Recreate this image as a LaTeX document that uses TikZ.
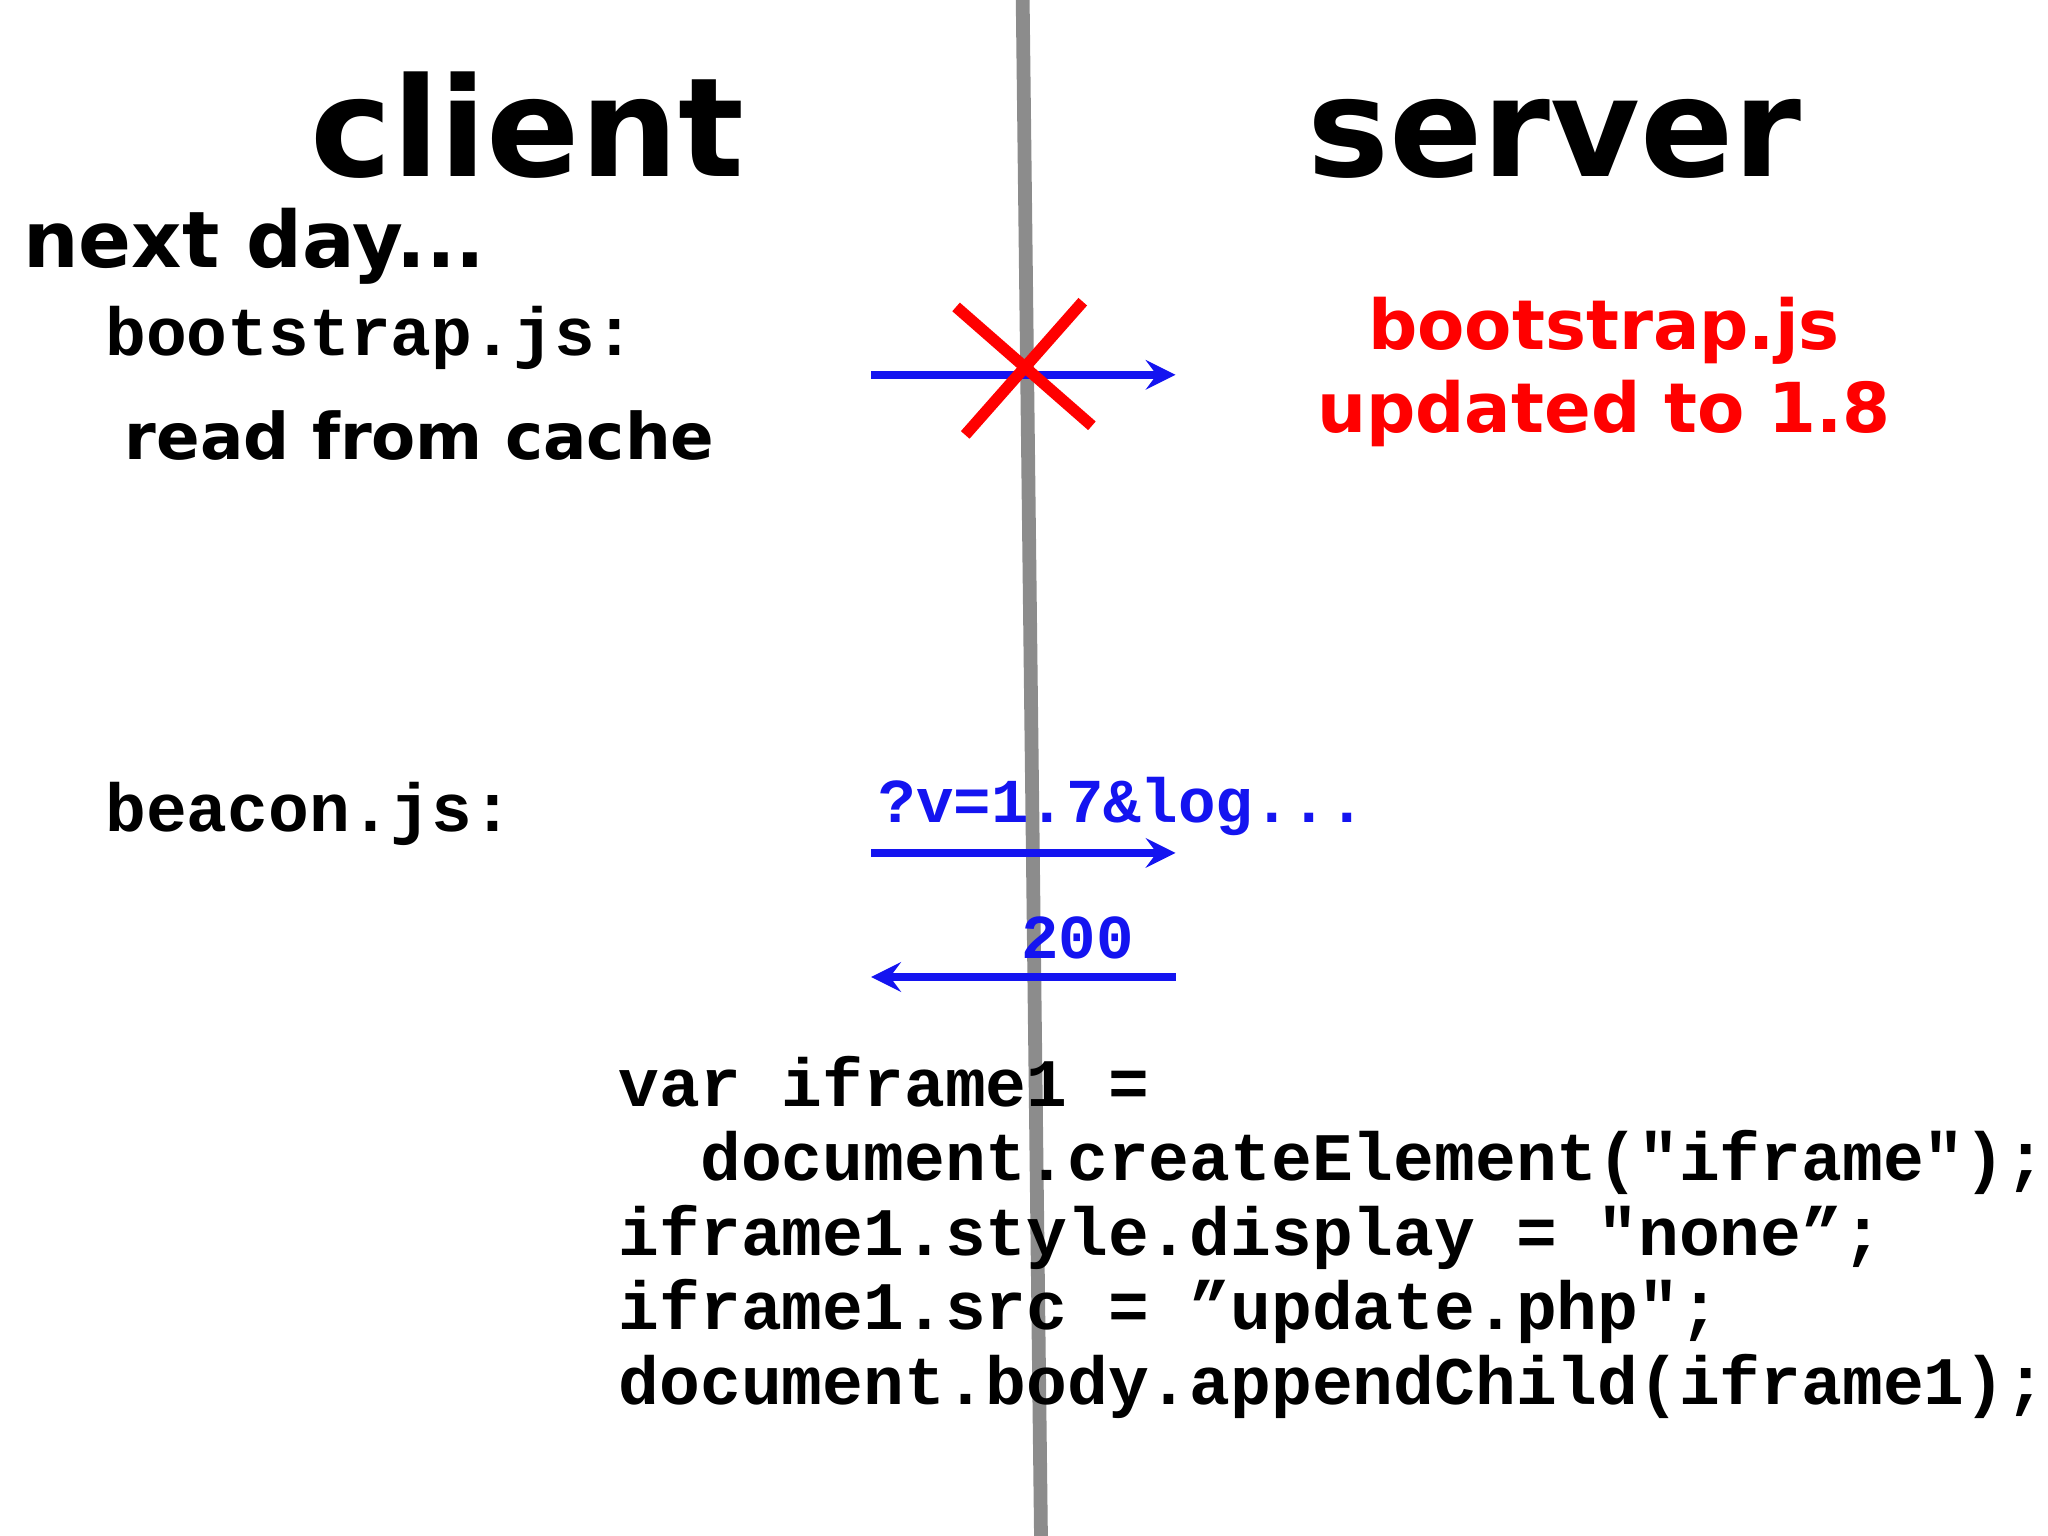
\documentclass[tikz,border=0pt]{standalone}
\usepackage{fontspec}
\setmainfont{DejaVu Sans}
\newfontfamily\monof{Liberation Mono}
\definecolor{ablue}{RGB}{20,20,240}
\begin{document}
\begin{tikzpicture}[x=0.01cm,y=-0.01cm,
  sans/.style={font=\bfseries,inner sep=0,anchor=base west},
  mono/.style={font=\monof\bfseries,inner sep=0,anchor=base west},
  arr/.style={ablue,line width=1.8pt,->,>=stealth}]
\useasboundingbox (0,0) rectangle (1568,1176);
\draw[gray!90,line width=3pt] (783,0) coordinate (t) -- (797,1176) coordinate (b);
\node[sans,font=\fontsize{30}{30}\selectfont\bfseries] (client) at (237,135) {client};
\node[sans,font=\fontsize{30}{30}\selectfont\bfseries] (server) at (1000,135) {server};
\node[sans,font=\fontsize{17}{17}\selectfont\bfseries] (next) at (17,205) {next day...};
\node[mono,font=\fontsize{14.8}{14.8}\selectfont\monof\bfseries] (bs) at (80,272) {bootstrap.js:};
\node[sans,font=\fontsize{14}{14}\selectfont\bfseries] (cache) at (95,352) {read from cache};
\node[font=\fontsize{15}{18}\selectfont\bfseries,red,align=center,inner sep=0] (upd) at (1228,285) {bootstrap.js\\updated to 1.8};
\coordinate (a1s) at (667,287); \coordinate (a1e) at (900,287);
\draw[arr] (a1s) -- (a1e);
\coordinate (x1) at (732,235); \coordinate (x2) at (836,326);
\coordinate (x3) at (829,231); \coordinate (x4) at (739,333);
\draw[red,line width=2.5pt] (x1) -- (x2) (x3) -- (x4);
\node[mono,font=\fontsize{14.8}{14.8}\selectfont\monof\bfseries] (bc) at (80,637) {beacon.js:};
\node[mono,ablue,font=\fontsize{13.6}{13.6}\selectfont\monof\bfseries] (q) at (672,630) {?v=1.7\&log...};
\coordinate (a2s) at (667,653); \coordinate (a2e) at (900,653);
\draw[arr] (a2s) -- (a2e);
\node[mono,ablue,font=\fontsize{13.6}{13.6}\selectfont\monof\bfseries,anchor=base] (ok) at (825,734) {200};
\coordinate (a3s) at (900,748); \coordinate (a3e) at (667,748);
\draw[arr] (a3s) -- (a3e);
\node[mono,font=\fontsize{14.8}{16.2}\selectfont\monof\bfseries,align=left,anchor=north west] (code) at (473,808)
{var iframe1 =\\
\ \ document.createElement("iframe");\\
iframe1.style.display = "none”;\\
iframe1.src = ”update.php";\\
document.body.appendChild(iframe1);};
\end{tikzpicture}
\end{document}
